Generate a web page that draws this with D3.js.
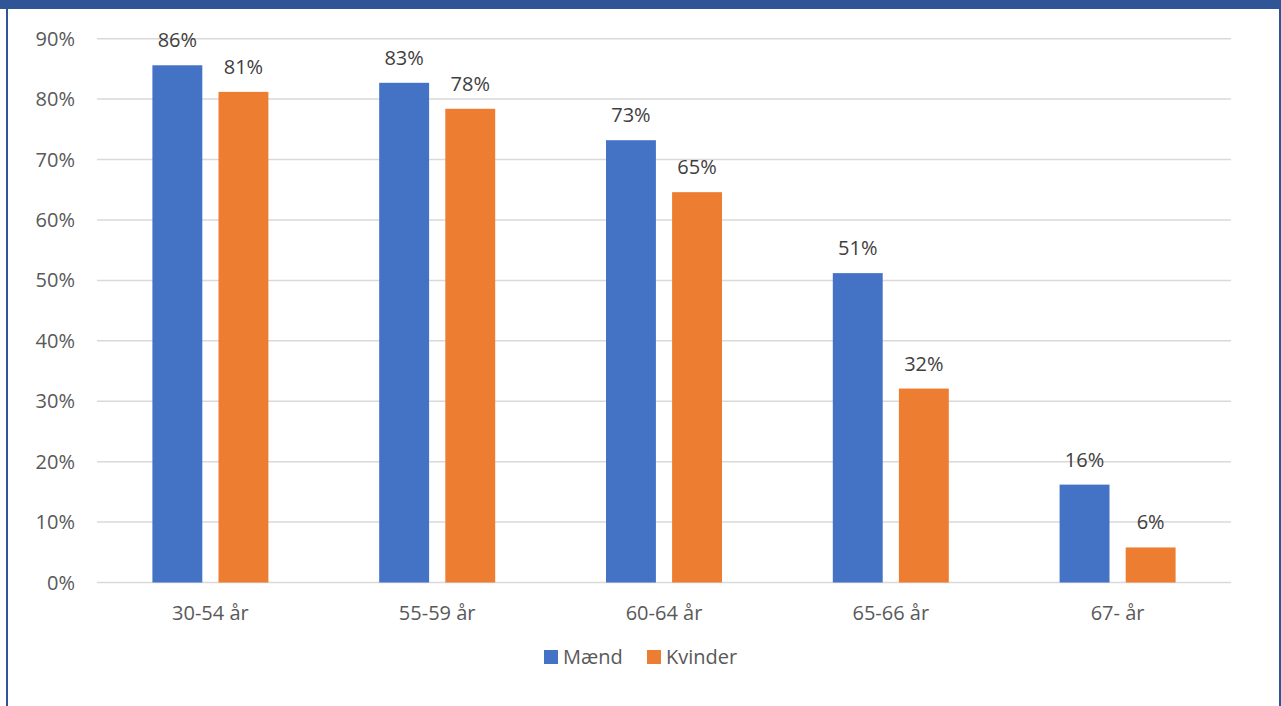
<!DOCTYPE html>
<html>
<head>
<meta charset="utf-8">
<script src="https://cdn.jsdelivr.net/npm/d3@7"></script>
<style>
  body { margin: 0; background: #fff; }
  svg { display: block; font-family: "Open Sans", sans-serif; }
</style>
</head>
<body>
<div id="chart"></div>
<script>
// data
const categories = ["30-54 år", "55-59 år", "60-64 år", "65-66 år", "67- år"];
const seriesNames = ["Mænd", "Kvinder"];
const maend = [0.856, 0.827, 0.732, 0.512, 0.162];
const kvinder = [0.812, 0.784, 0.646, 0.321, 0.058];
const yTicks = [0, 0.1, 0.2, 0.3, 0.4, 0.5, 0.6, 0.7, 0.8, 0.9];
const colors = ["#4472C4", "#ED7D31"];

const width = 1281, height = 706;
const margin = {top: 38.7, right: 50, bottom: 123.5, left: 97};
const fontSize = "20px";

const svg = d3.select("#chart").append("svg")
    .attr("width", width)
    .attr("height", height);

// frame
svg.append("rect").attr("x", 0).attr("y", 0).attr("width", width).attr("height", 9)
    .attr("fill", "#2F5597");
svg.append("rect").attr("x", 6).attr("y", 0).attr("width", 2).attr("height", height)
    .attr("fill", "#2F5597");
svg.append("rect").attr("x", 1279).attr("y", 0).attr("width", 2).attr("height", height)
    .attr("fill", "#2F5597");

const x0 = d3.scaleBand()
    .domain(categories)
    .range([margin.left, width - margin.right]);

const x1 = d3.scaleBand()
    .domain(seriesNames)
    .range([0, 116])
    .paddingInner(0.245);

const y = d3.scaleLinear()
    .domain([0, 0.9])
    .range([height - margin.bottom, margin.top]);

// gridlines
svg.append("g")
    .selectAll("line")
    .data(yTicks)
    .join("line")
    .attr("x1", margin.left)
    .attr("x2", width - margin.right)
    .attr("y1", d => y(d))
    .attr("y2", d => y(d))
    .attr("stroke", "#D9D9D9")
    .attr("stroke-width", 1.5);

// y tick labels
svg.append("g")
    .selectAll("text")
    .data(yTicks)
    .join("text")
    .attr("x", 75)
    .attr("y", d => y(d))
    .attr("dy", "0.35em")
    .attr("text-anchor", "end")
    .attr("fill", "#595959")
    .style("font-size", fontSize)
    .text(d3.format(".0%"));

// bars
const series = [maend, kvinder];
const groups = svg.append("g")
    .selectAll("g")
    .data(categories)
    .join("g")
    .attr("transform", d => `translate(${x0(d) + (x0.bandwidth() - 116) / 2},0)`);

groups.selectAll("rect")
    .data((c, i) => seriesNames.map((s, j) => ({s, j, v: series[j][i]})))
    .join("rect")
    .attr("x", d => x1(d.s))
    .attr("width", x1.bandwidth())
    .attr("y", d => y(d.v))
    .attr("height", d => y(0) - y(d.v))
    .attr("fill", d => colors[d.j]);

groups.selectAll("text")
    .data((c, i) => seriesNames.map((s, j) => ({s, j, v: series[j][i]})))
    .join("text")
    .attr("x", d => x1(d.s) + x1.bandwidth() / 2)
    .attr("y", d => y(d.v) - 18)
    .attr("text-anchor", "middle")
    .attr("fill", "#404040")
    .style("font-size", fontSize)
    .text(d => d3.format(".0%")(d.v));

// category labels
svg.append("g")
    .selectAll("text")
    .data(categories)
    .join("text")
    .attr("x", d => x0(d) + x0.bandwidth() / 2)
    .attr("y", 620)
    .attr("text-anchor", "middle")
    .attr("fill", "#595959")
    .style("font-size", fontSize)
    .text(d => d);

// legend
const legendX = [544, 647];
const legend = svg.append("g")
    .selectAll("g")
    .data(seriesNames)
    .join("g")
    .attr("transform", (d, i) => `translate(${legendX[i]},650)`);
legend.append("rect")
    .attr("width", 14).attr("height", 14)
    .attr("fill", (d, i) => colors[i]);
legend.append("text")
    .attr("x", 19)
    .attr("y", 7)
    .attr("dy", "0.35em")
    .attr("fill", "#595959")
    .style("font-size", fontSize)
    .text(d => d);
</script>
</body>
</html>
